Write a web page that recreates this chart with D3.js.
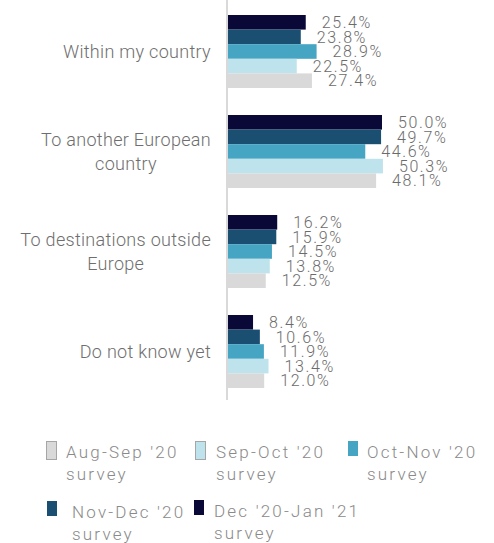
<!DOCTYPE html>
<html><head><meta charset="utf-8">
<script src="https://cdn.jsdelivr.net/npm/d3@7"></script>
<style>body{margin:0;background:#fff}svg{display:block}text{font-family:Roboto,"Noto Sans",sans-serif;font-weight:300}</style>
</head><body><svg id="c" width="494" height="543"></svg>
<script>
const categories = [["Within my country"], ["To another European", "country"], ["To destinations outside", "Europe"], ["Do not know yet"]];
const seriesNames = ["Aug-Sep '20", "Sep-Oct '20", "Oct-Nov '20", "Nov-Dec '20", "Dec '20-Jan '21"];
const augSep = [27.4, 48.1, 12.5, 12.0];
const sepOct = [22.5, 50.3, 13.8, 13.4];
const octNov = [28.9, 44.6, 14.5, 11.9];
const novDec = [23.8, 49.7, 15.9, 10.6];
const decJan = [25.4, 50.0, 16.2, 8.4];
const colors = ["#d9d9d9", "#bfe3ec", "#45a5c3", "#1a4f72", "#0a0836"];

const series = [augSep, sepOct, octNov, novDec, decJan];
const svg = d3.select("#c");
const catKeys = categories.map(c => c.join(" "));
const x = d3.scaleLinear().domain([0, 50]).range([227, 382]);
const y = d3.scaleBand().domain(catKeys).range([1.5, 401.5]).paddingInner(0.27).paddingOuter(0.135);
const order = [4, 3, 2, 1, 0];
const ys = d3.scaleBand().domain(order).range([0, y.bandwidth()]);

categories.forEach((cat, ci) => {
  const g = svg.append("g").attr("transform", `translate(0,${y(catKeys[ci])})`);
  order.forEach(si => {
    const v = series[si][ci];
    g.append("rect").attr("x", x(0)).attr("y", ys(si)).attr("width", x(v) - x(0)).attr("height", ys.bandwidth()).attr("fill", colors[si]);
    g.append("text").attr("x", x(v) + 16).attr("y", ys(si) + ys.bandwidth() / 2).attr("dy", "0.36em")
      .attr("font-size", 16).attr("letter-spacing", 1.6).attr("fill", "#6b6b6b").text(v.toFixed(1) + "%");
  });
  const cy = y(catKeys[ci]) + y.bandwidth() / 2;
  const lh = 24;
  const t = svg.append("text").attr("text-anchor", "middle").attr("font-size", 18).attr("letter-spacing", 0.3).attr("fill", "#6e6e6e");
  cat.forEach((line, li) => {
    t.append("tspan").attr("x", 0).attr("y", cy + (li - (cat.length - 1) / 2) * lh).attr("dy", "0.36em").text(line);
  });
  const w = t.node().getBBox().width;
  t.selectAll("tspan").attr("x", 211 - w / 2);
});

svg.append("line").attr("x1", x(0)).attr("x2", x(0)).attr("y1", 0).attr("y2", 400).attr("stroke", "#d9d9d9").attr("stroke-width", 2);

const legPos = [[46, 441, 66], [195, 441, 216], [348, 441, 367], [47, 501, 72], [194, 500, 214]];
seriesNames.forEach((name, i) => {
  const [sx, sy, tx] = legPos[i];
  svg.append("rect").attr("x", sx + (i < 2 ? 0.5 : 0)).attr("y", sy + (i < 2 ? 0.5 : 0)).attr("width", 10).attr("height", i < 2 ? 18 : 15)
    .attr("fill", colors[i]).attr("stroke", i < 2 ? "#a6a6a6" : "none");
  const t = svg.append("text").attr("font-size", 17).attr("letter-spacing", 2.2).attr("fill", "#8a8a8a");
  t.append("tspan").attr("x", tx).attr("y", sy + 17).text(name);
  t.append("tspan").attr("x", tx).attr("y", sy + 39).text("survey");
});
</script></body></html>
